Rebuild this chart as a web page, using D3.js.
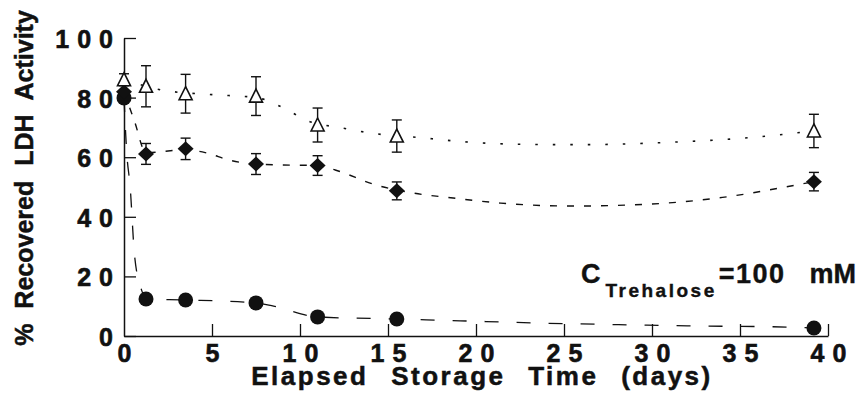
<!DOCTYPE html>
<html>
<head>
<meta charset="utf-8">
<script src="https://cdn.jsdelivr.net/npm/d3@7"></script>
<style>
  html, body { margin: 0; padding: 0; background: #fff; }
  svg { display: block; font-family: "Liberation Sans", Arial, sans-serif; font-weight: bold; }
</style>
</head>
<body>
<svg id="chart" width="865" height="393"></svg>
<script>
// measured sample days
var days = [0, 1.25, 3.5, 7.5, 11, 15.5, 39.2];

// open triangles (with error)
var triangleValues = [86, 83.8, 81.3, 80.5, 70.8, 67.1, 68.8];
var triangleErrors = [2, 6.9, 6.5, 6.5, 5.7, 5.4, 5.6];

// filled diamonds (with error)
var diamondValues = [82, 61.1, 62.8, 57.7, 57.2, 48.7, 51.8];
var diamondErrors = [0, 3.5, 3.6, 3.5, 3.3, 3, 3.1];

// filled circles
var circleValues = [79.9, 12.4, 12.1, 11.1, 6.4, 5.7, 2.7];

// hand-drawn trend curves
var triangleTrendDays = [0, 2.2, 5, 7.5, 9.3, 10.3, 12.4, 14.4, 16.4, 19.5, 22, 26, 31, 35, 39.2];
var triangleTrend = [86, 82.5, 81, 80, 75.8, 72.5, 69.8, 67.8, 66.8, 65.1, 64.4, 64.2, 65, 66.3, 68.8];

var diamondTrendDays = [0, 0.6, 1.25, 3.5, 4.7, 6, 7.5, 9, 11, 12, 14.3, 16.4, 18.7, 21.4, 25.5, 30, 34, 37.3, 39.2];
var diamondTrend = [82, 72, 61.5, 62.5, 61.4, 59, 57.7, 57.4, 57.2, 55.7, 50.7, 48, 46.3, 44.6, 43.6, 44.3, 46.5, 49.7, 51.8];

var circleTrendDays = [0, 0.15, 0.35, 0.6, 1.0, 1.25, 3.5, 7.5, 8.5, 11, 15.5, 19.1, 23.2, 29.1, 32, 37.7, 39.2];
var circleTrend = [79.9, 62, 50, 27, 15.4, 12.4, 12.1, 11.1, 10, 6.4, 5.7, 5.1, 4.4, 3.7, 3.4, 3.0, 2.7];

var xTicks = [0, 5, 10, 15, 20, 25, 30, 35, 40];
var yTicks = [0, 20, 40, 60, 80, 100];

var svg = d3.select("#chart"),
  x = d3.scaleLinear().domain([0, 40]).range([124, 828]),
  y = d3.scaleLinear().domain([0, 100]).range([336, 38]),
  ink = "#111",
  tickFont = 25,
  tickSpacing = 8;

svg.append("rect").attr("width", 865).attr("height", 393).attr("fill", "#fff");

// axes
var yAxis = svg.append("g")
  .attr("transform", "translate(" + x(0) + ",0)")
  .call(d3.axisLeft(y).tickValues(yTicks).tickSize(-12).tickSizeOuter(0).tickPadding(11 - tickSpacing));

var xAxis = svg.append("g")
  .attr("transform", "translate(0," + y(0) + ")")
  .call(d3.axisBottom(x).tickValues(xTicks).tickSize(-12).tickSizeOuter(0).tickPadding(8));

[yAxis, xAxis].forEach(function(g) {
  g.select(".domain").attr("stroke", ink).attr("stroke-width", 1.5);
  g.selectAll(".tick line").attr("stroke", ink).attr("stroke-width", 1.3);
  g.selectAll(".tick text")
    .attr("fill", ink)
    .attr("stroke", ink)
    .attr("stroke-width", 0.6)
    .style("font-size", tickFont + "px")
    .style("font-weight", "bold")
    .style("letter-spacing", tickSpacing + "px")
    .attr("font-family", null);
});
yAxis.selectAll(".tick text").attr("dy", "0.38em");
xAxis.selectAll(".tick text").attr("dx", tickSpacing / 2);
xAxis.selectAll(".tick").filter(function(d) { return d === 0; }).select("line").remove();

// trend lines
var line = d3.line()
  .x(function(d) { return x(d[0]); })
  .y(function(d) { return y(d[1]); })
  .curve(d3.curveMonotoneX);

var trends = [
  { days: circleTrendDays, vals: circleTrend, dash: "14,18", width: 1.3 },
  { days: diamondTrendDays, vals: diamondTrend, dash: "7,10", width: 1.4 },
  { days: triangleTrendDays, vals: triangleTrend, dash: "2.5,15", width: 1.6 }
];

svg.append("g").selectAll("path")
  .data(trends)
  .enter().append("path")
  .attr("d", function(t) { return line(d3.zip(t.days, t.vals)); })
  .attr("fill", "none")
  .attr("stroke", ink)
  .attr("stroke-width", function(t) { return t.width; })
  .attr("stroke-dasharray", function(t) { return t.dash; });

// error bars
function errorBars(vals, errs) {
  var g = svg.append("g").attr("stroke", ink).attr("stroke-width", 1.4);
  days.forEach(function(d, i) {
    if (!errs[i]) return;
    var cx = x(d), top = y(vals[i] + errs[i]), bot = y(vals[i] - errs[i]);
    g.append("line").attr("x1", cx).attr("x2", cx).attr("y1", top).attr("y2", bot);
    g.append("line").attr("x1", cx - 5).attr("x2", cx + 5).attr("y1", top).attr("y2", top);
    g.append("line").attr("x1", cx - 5).attr("x2", cx + 5).attr("y1", bot).attr("y2", bot);
  });
}
errorBars(diamondValues, diamondErrors);
errorBars(triangleValues, triangleErrors);

// markers
svg.append("g").selectAll("circle")
  .data(days)
  .enter().append("circle")
  .attr("cx", function(d) { return x(d); })
  .attr("cy", function(d, i) { return y(circleValues[i]); })
  .attr("r", 7.5)
  .attr("fill", ink);

svg.append("g").selectAll("path")
  .data(days)
  .enter().append("path")
  .attr("transform", function(d, i) { return "translate(" + x(d) + "," + y(diamondValues[i]) + ")"; })
  .attr("d", "M0,-7.5L8,0L0,7.5L-8,0Z")
  .attr("fill", ink);

svg.append("g").selectAll("path")
  .data(days)
  .enter().append("path")
  .attr("transform", function(d, i) { return "translate(" + x(d) + "," + y(triangleValues[i]) + ")"; })
  .attr("d", "M0,-7L6.5,6L-6.5,6Z")
  .attr("fill", "#fff")
  .attr("stroke", ink)
  .attr("stroke-width", 1.6)
  .attr("stroke-linejoin", "miter");

// axis titles
svg.append("text")
  .attr("x", 482)
  .attr("y", 385)
  .attr("text-anchor", "middle")
  .attr("fill", ink)
  .attr("stroke", ink)
  .attr("stroke-width", 0.5)
  .style("font-size", "26px")
  .style("letter-spacing", "2.5px")
  .style("word-spacing", "13px")
  .text("Elapsed Storage Time (days)");

svg.append("text")
  .attr("transform", "translate(33,178) rotate(-90)")
  .attr("text-anchor", "middle")
  .attr("fill", ink)
  .attr("stroke", ink)
  .attr("stroke-width", 0.5)
  .style("font-size", "25px")
  .style("word-spacing", "8px")
  .text("% Recovered LDH Activity");

// concentration note
var note = svg.append("text")
  .attr("x", 581)
  .attr("y", 283)
  .attr("fill", ink)
  .attr("stroke", ink)
  .attr("stroke-width", 0.4)
  .style("font-size", "27px");
note.append("tspan").text("C");
note.append("tspan")
  .attr("dx", 5)
  .attr("dy", 14)
  .style("font-size", "19px")
  .style("letter-spacing", "2.5px")
  .text("Trehalose");
note.append("tspan")
  .attr("dy", -14)
  .attr("dx", 2)
  .style("letter-spacing", "1.5px")
  .text("=100");
note.append("tspan")
  .attr("dx", 24)
  .text("mM");
</script>
</body>
</html>
